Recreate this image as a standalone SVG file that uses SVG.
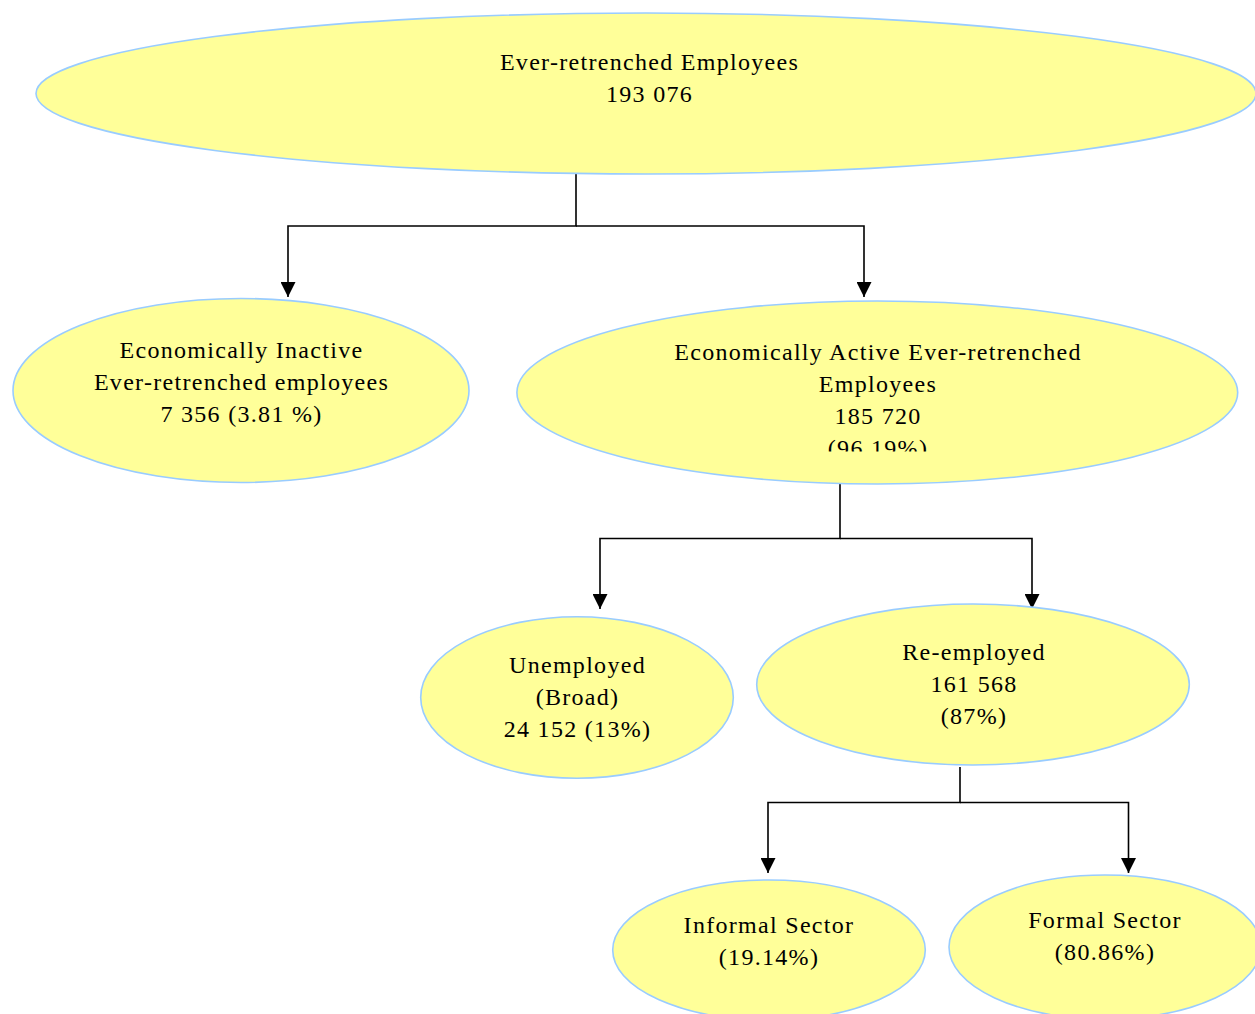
<svg xmlns="http://www.w3.org/2000/svg" width="1255" height="1014" viewBox="0 0 1255 1014">
<style>
.node ellipse{fill:#FFFF99;stroke:#99CCFF;stroke-width:1.6}
.node text{font-family:"Liberation Serif","Times New Roman",serif;font-size:24px;letter-spacing:1.3px;fill:#000;text-anchor:middle}
.conn path{fill:none;stroke:#000;stroke-width:1.6}
</style>
<defs>
<marker id="arrow" viewBox="0 0 15 15" refX="15" refY="7.5" markerWidth="15" markerHeight="15" markerUnits="userSpaceOnUse" orient="auto">
<path d="M0,0 L15,7.5 L0,15 Z" fill="#000"/>
</marker>
<clipPath id="clipActive"><rect x="500" y="300" width="760" height="151.5"/></clipPath>
</defs>
<rect width="1255" height="1014" fill="#fff"/>
<g id="connectors" class="conn">
<path d="M576,167 V226 H288 V297" marker-end="url(#arrow)"/>
<path d="M576,226 H864 V297" marker-end="url(#arrow)"/>
<path d="M840,480 V538.5 H600 V609" marker-end="url(#arrow)"/>
<path d="M840,538.5 H1032 V609" marker-end="url(#arrow)"/>
<path d="M960,767 V802.5 H768 V873" marker-end="url(#arrow)"/>
<path d="M960,802.5 H1128.5 V873" marker-end="url(#arrow)"/>
</g>
<g id="node-root" class="node">
<ellipse cx="646" cy="93.5" rx="610" ry="80.5"/>
<text x="649.5" y="69.5">Ever-retrenched Employees</text>
<text x="649.5" y="101.5">193 076</text>
</g>
<g id="node-inactive" class="node">
<ellipse cx="241" cy="390.5" rx="228" ry="92"/>
<text x="241.5" y="358">Economically Inactive</text>
<text x="241.5" y="390">Ever-retrenched employees</text>
<text x="241.5" y="422">7 356 (3.81 %)</text>
</g>
<g id="node-active" class="node">
<ellipse cx="877.3" cy="392.5" rx="360.4" ry="91.5"/>
<text x="878" y="360">Economically Active Ever-retrenched</text>
<text x="878" y="392">Employees</text>
<text x="878" y="424">185 720</text>
<text x="878" y="456" clip-path="url(#clipActive)">(96.19%)</text>
</g>
<g id="node-unemployed" class="node">
<ellipse cx="577" cy="697.5" rx="156.3" ry="80.8"/>
<text x="577.5" y="673">Unemployed</text>
<text x="577.5" y="705">(Broad)</text>
<text x="577.5" y="737">24 152 (13%)</text>
</g>
<g id="node-reemployed" class="node">
<ellipse cx="973" cy="684.5" rx="216.3" ry="80.5"/>
<text x="974" y="660">Re-employed</text>
<text x="974" y="692">161 568</text>
<text x="974" y="724">(87%)</text>
</g>
<g id="node-informal" class="node">
<ellipse cx="769" cy="950" rx="156.3" ry="70"/>
<text x="769" y="932.5">Informal Sector</text>
<text x="769" y="964.5">(19.14%)</text>
</g>
<g id="node-formal" class="node">
<ellipse cx="1105" cy="947" rx="156" ry="72"/>
<text x="1105" y="928">Formal Sector</text>
<text x="1105" y="960">(80.86%)</text>
</g>
</svg>
